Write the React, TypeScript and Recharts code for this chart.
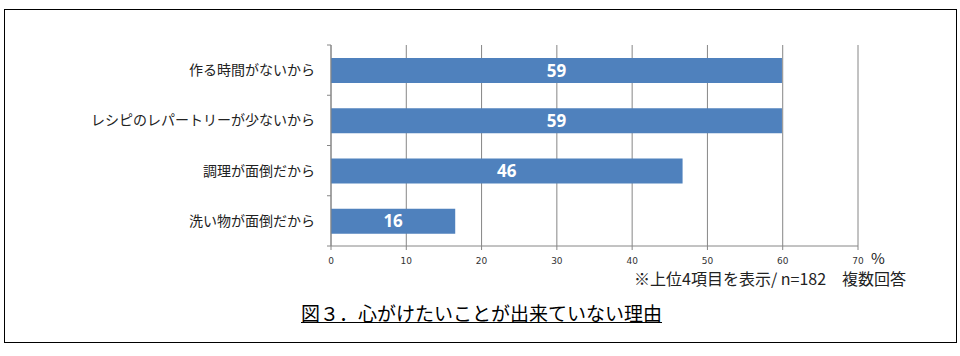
import React from 'react';
import { BarChart, Bar, XAxis, YAxis, CartesianGrid, LabelList } from 'recharts';

const categories = ['作る時間がないから', 'レシピのレパートリーが少ないから', '調理が面倒だから', '洗い物が面倒だから'];
const values = [59.9, 59.9, 46.7, 16.5];
const xTicks = [0, 10, 20, 30, 40, 50, 60, 70];
const title = '図３．心がけたいことが出来ていない理由';
const note = '※上位4項目を表示/ n=182　複数回答';
const unit = '%';

const data = categories.map((name, i) => ({ name, value: values[i] }));

const W = 960;
const H = 356;
const XAXIS_H = 30;
const M = { top: 45, right: 102, bottom: 110 - XAXIS_H, left: 0 };
const band = (H - 45 - 110) / categories.length;
const jp = '"Noto Sans CJK JP", "Noto Sans", sans-serif';

const YTick = (props: any) => {
  const { x, y, payload, index } = props;
  const ax = x + 8;
  return (
    <g>
      <line x1={ax - 4} x2={ax} y1={y - band / 2} y2={y - band / 2} stroke="#868686" />
      {index === categories.length - 1 && (
        <line x1={ax - 4} x2={ax} y1={y + band / 2} y2={y + band / 2} stroke="#868686" />
      )}
      <text x={x - 8} y={y} dy={5} textAnchor="end" fontSize={14} fill="#222" fontFamily={jp}>
        {payload.value}
      </text>
    </g>
  );
};

export default function App() {
  return (
    <div style={{ position: 'absolute', left: 0, top: 0, width: W, height: H, background: '#fff' }}>
      <div style={{ position: 'absolute', left: 4, top: 9, width: 951, height: 332, border: '1px solid #000' }} />
      <BarChart width={W} height={H} data={data} layout="vertical" margin={M} barSize={25}>
        <CartesianGrid horizontal={false} stroke="#868686" />
        <XAxis
          type="number"
          domain={[0, 70]}
          ticks={xTicks}
          interval={0}
          height={XAXIS_H}
          stroke="#868686"
          tickSize={4}
          tickMargin={8}
          tick={{ fontSize: 9, fill: '#333', fontFamily: 'DejaVu Sans' }}
        />
        <YAxis
          type="category"
          dataKey="name"
          width={331}
          stroke="#868686"
          tickLine={false}
          tick={<YTick />}
          interval={0}
        />
        <Bar dataKey="value" fill="#4f81bd" isAnimationActive={false}>
          <LabelList
            dataKey="value"
            position="center"
            formatter={(v: any) => String(Math.floor(Number(v)))}
            fill="#fff"
            fontSize={17}
            fontWeight="bold"
            fontFamily='"Open Sans", sans-serif'
          />
        </Bar>
      </BarChart>
      <div style={{ position: 'absolute', left: 871, top: 250, fontSize: 15, fontFamily: jp, color: '#222', lineHeight: '16px' }}>{unit}</div>
      <div style={{ position: 'absolute', left: 634, top: 268, fontSize: 16, fontFamily: jp, color: '#222', lineHeight: '20px', whiteSpace: 'pre' }}>{note}</div>
      <div style={{ position: 'absolute', left: 301, top: 301, fontSize: 19, fontFamily: jp, color: '#000', lineHeight: '24px', textDecoration: 'underline', whiteSpace: 'pre' }}>{title}</div>
    </div>
  );
}
